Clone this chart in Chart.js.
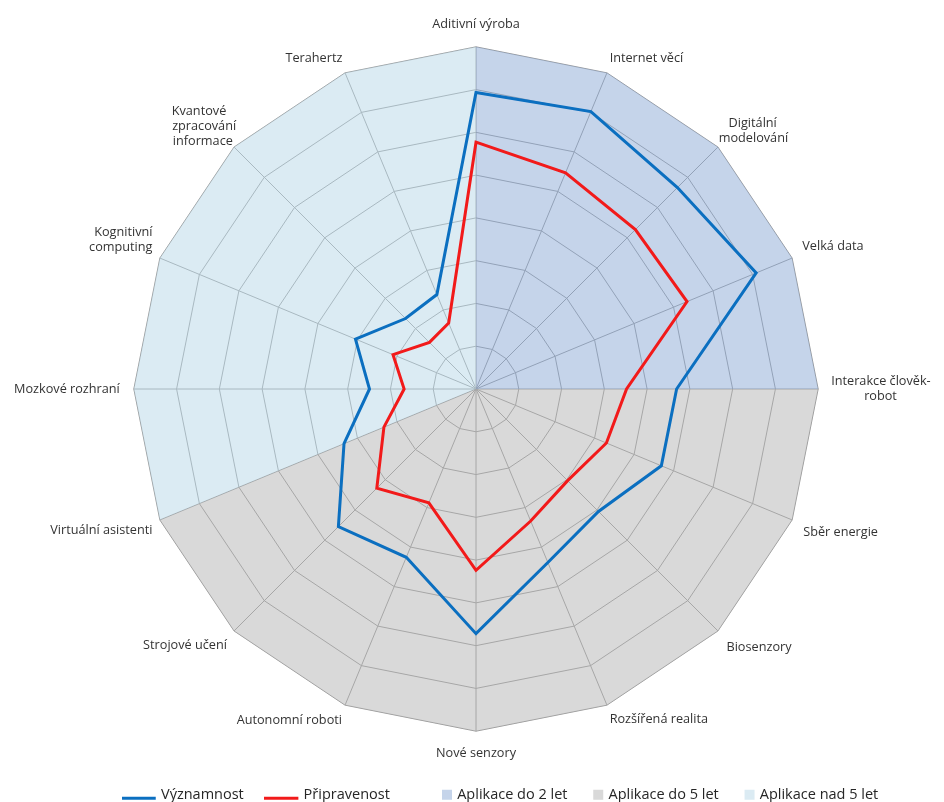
<!DOCTYPE html>
<html lang="cs">
<head>
<meta charset="utf-8">
<title>Významnost a připravenost technologií</title>
<script src="https://cdn.jsdelivr.net/npm/chart.js@4.4.1/dist/chart.umd.min.js"></script>
<style>
  html, body { margin: 0; padding: 0; background: #fff; }
</style>
</head>
<body>
<canvas id="radar" width="944" height="802"></canvas>
<script>
// categories, clockwise from the top
const categories = [
  'Aditivní výroba', 'Internet věcí', ['   Digitální', 'modelování'], 'Velká data',
  ['Interakce člověk-', '          robot'], 'Sběr energie', 'Biosenzory', 'Rozšířená realita',
  'Nové senzory', 'Autonomní roboti', 'Strojové učení', 'Virtuální asistenti',
  'Mozkové rozhraní', ['Kognitivní', 'computing'], ['Kvantové   ', 'zpracování', 'informace '], 'Terahertz'
];

// series values (scale 0..8, one unit per ring)
const vyznamnost = [6.93, 7.02, 6.66, 7.09, 4.69, 4.69, 4.05, 4.39, 5.72, 4.26, 4.55, 3.34, 2.49, 3.05, 2.33, 2.39];
const pripravenost = [5.77, 5.47, 5.27, 5.34, 3.52, 3.30, 3.03, 3.34, 4.24, 2.88, 3.28, 2.33, 1.68, 2.10, 1.54, 1.67];

// background sectors: which spokes each one spans
const scaleMax = 8;
const do2Let = [0, 1, 2, 3, 4];
const do5Let = [4, 5, 6, 7, 8, 9, 10, 11];
const nad5Let = [11, 12, 13, 14, 15, 0];

// gap between each spoke end and its label
const labelGap = [15, 7, 1, 11, 13, 12, 12, 7, 15, 8, 10, 8, 14, 8, -3, 7];

const sectorValues = idx => categories.map((_, i) => idx.includes(i) ? scaleMax : 0);

// legend icons: a long line for the series, a small square for the sectors
function lineIcon(color) {
  const c = document.createElement('canvas');
  c.width = 38; c.height = 12;
  const g = c.getContext('2d');
  g.fillStyle = color;
  g.fillRect(0, 8, 34, 3);
  return c;
}
function boxIcon(color) {
  const c = document.createElement('canvas');
  c.width = 38; c.height = 12;
  const g = c.getContext('2d');
  g.fillStyle = color;
  g.fillRect(24, 1, 10, 10);
  return c;
}

// legend row sits a bit right of the canvas centre in the original
const legendShift = {
  id: 'legendShift',
  afterLayout(chart) {
    chart.legend.left += 30;
    chart.legend.right += 30;
  }
};

const font = 'Open Sans';

function sector(label, idx, fill, solid) {
  return {
    label,
    data: sectorValues(idx),
    backgroundColor: fill,
    borderWidth: 0,
    fill: 'origin',
    pointRadius: 0,
    pointHoverRadius: 0,
    pointStyle: boxIcon(solid)
  };
}

new Chart(document.getElementById('radar'), {
  type: 'radar',
  data: {
    labels: categories,
    datasets: [
      {
        label: 'Významnost     ',
        data: vyznamnost,
        borderColor: '#0b6fc0',
        borderWidth: 3,
        fill: false,
        pointRadius: 0,
        pointStyle: lineIcon('#0b6fc0')
      },
      {
        label: 'Připravenost       ',
        data: pripravenost,
        borderColor: '#f21a1a',
        borderWidth: 3,
        fill: false,
        pointRadius: 0,
        pointStyle: lineIcon('#f21a1a')
      },
      // semi-transparent so the grid underneath stays visible
      sector('Aplikace do 2 let', do2Let, 'rgba(139,169,213,0.5)', '#c5d4ea'),
      sector('Aplikace do 5 let', do5Let, 'rgba(179,179,179,0.5)', '#d9d9d9'),
      sector('Aplikace nad 5 let', nad5Let, 'rgba(183,215,231,0.5)', '#dbebf3')
    ]
  },
  options: {
    responsive: false,
    devicePixelRatio: 1,
    animation: false,
    layout: { padding: { left: 11, right: 9, top: 0, bottom: -10 } },
    elements: { line: { tension: 0 } },
    scales: {
      r: {
        min: 0,
        max: scaleMax,
        ticks: { display: false, stepSize: 1 },
        grid: { color: '#9a9a9a', lineWidth: 1 },
        angleLines: { color: '#9a9a9a', lineWidth: 1 },
        pointLabels: {
          padding: ctx => labelGap[ctx.index],
          color: '#333333',
          font: { family: font, size: 12.7 }
        }
      }
    },
    plugins: {
      tooltip: { enabled: false },
      legend: {
        position: 'bottom',
        labels: {
          usePointStyle: true,
          pointStyleWidth: 26,
          padding: 7.75,
          color: '#262626',
          font: { family: font, size: 14.5 }
        }
      }
    }
  },
  plugins: [legendShift]
});
</script>
</body>
</html>
